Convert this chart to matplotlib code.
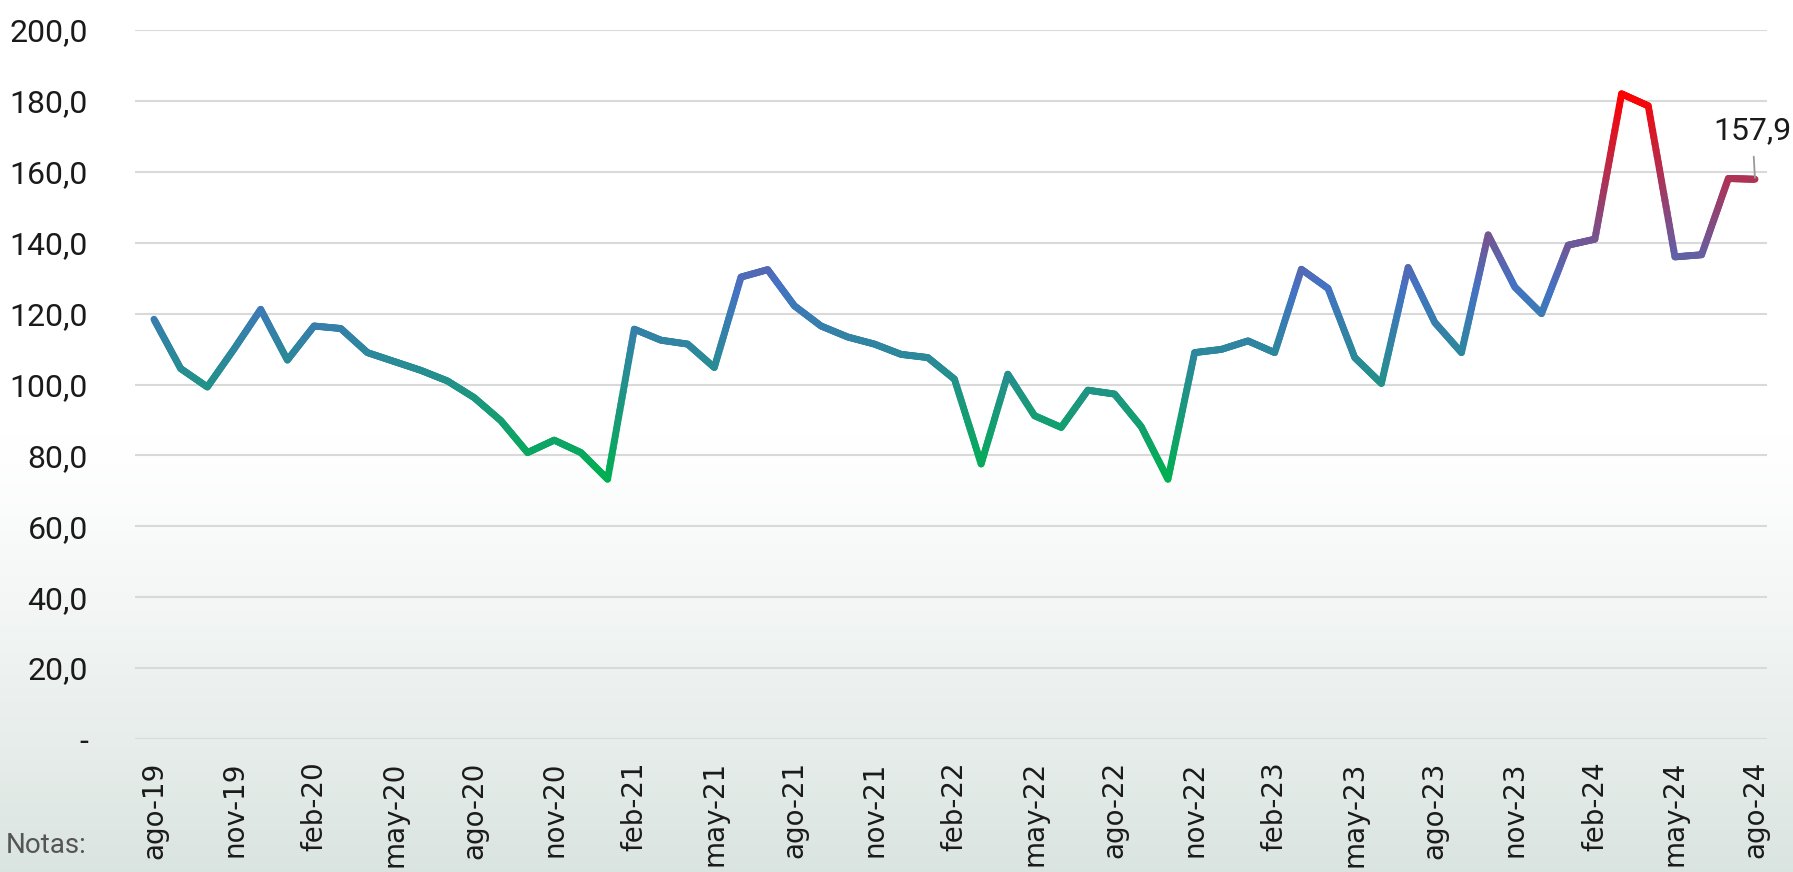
import numpy as np
import matplotlib
matplotlib.use("Agg")
import matplotlib.pyplot as plt
from matplotlib.collections import LineCollection
from matplotlib.colors import LinearSegmentedColormap, Normalize

# monthly values, ago-19 .. ago-24
valores = [118.4, 104.5, 99.3, 110.0, 121.2, 106.9, 116.5, 115.8, 109.0, 106.5,
           104.0, 101.0, 96.3, 89.8, 80.8, 84.3, 80.8, 73.3, 115.6, 112.5,
           111.4, 104.8, 130.3, 132.4, 122.2, 116.5, 113.4, 111.4, 108.5, 107.6,
           101.5, 77.6, 102.9, 91.2, 87.9, 98.4, 97.3, 88.1, 73.3, 109.0,
           109.9, 112.3, 109.0, 132.5, 127.1, 107.6, 100.3, 133.0, 117.5, 109.0,
           142.2, 127.5, 120.0, 139.3, 141.0, 182.0, 178.6, 136.0, 136.6, 158.1,
           157.9]
meses = ["ene", "feb", "mar", "abr", "may", "jun", "jul", "ago", "sep", "oct", "nov", "dic"]
etiquetas = []
for k in range(len(valores)):
    m = 7 + k
    etiquetas.append(meses[m % 12] + "-" + str(19 + m // 12))
yticks = [0, 20, 40, 60, 80, 100, 120, 140, 160, 180, 200]
ylabels = ["-"] + ["%d,0" % v for v in yticks[1:]]

narrow = ["Roboto", "DejaVu Sans"]

fig = plt.figure(figsize=(17.93, 8.72), dpi=100)

# background gradient (white -> light grey-green at the bottom)
bg = fig.add_axes([0, 0, 1, 1], zorder=-5)
t = np.linspace(0, 1, 400)
a = np.clip((t - 0.5) / 0.5, 0, 1) ** 1.2
top = np.array([1.0, 1.0, 1.0])
bot = np.array([0.855, 0.894, 0.878])
grad = (top[None, :] * (1 - a[:, None]) + bot[None, :] * a[:, None])[:, None, :]
bg.imshow(grad, aspect="auto", extent=[0, 1, 0, 1])
bg.axis("off")

ax = fig.add_axes([0.0753, 0.1525, 0.9102, 0.8131])
ax.patch.set_alpha(0)

x = np.arange(len(valores))
y = np.array(valores)

# vertical colour gradient along the line
cmap = LinearSegmentedColormap.from_list("g", ["#00B050", "#4472C4", "#FF0000"])
norm = Normalize(y.min(), y.max())
segs, cols = [], []
for i in range(len(x) - 1):
    xs = np.linspace(x[i], x[i + 1], 25)
    ys = np.linspace(y[i], y[i + 1], 25)
    for j in range(len(xs) - 1):
        segs.append([(xs[j], ys[j]), (xs[j + 1], ys[j + 1])])
        cols.append(cmap(norm((ys[j] + ys[j + 1]) / 2)))
lc = LineCollection(segs, colors=cols, linewidths=5, capstyle="round", joinstyle="round", zorder=3)
ax.add_collection(lc)

ax.set_xlim(-0.71, 60.45)
ax.set_ylim(0, 200)
ax.set_yticks(yticks)
ax.set_yticklabels(ylabels, family=narrow, fontsize=23, color="#1a1a1a")
ax.set_xticks(x[::3])
ax.set_xticklabels(etiquetas[::3], rotation=90, fontsize=20, color="#1a1a1a")
ax.tick_params(axis="y", length=0, pad=34)
ax.tick_params(axis="x", length=0, pad=16)
ax.grid(axis="y", color="#D9D9D9", linewidth=1.5, zorder=0)
ax.set_axisbelow(True)
for s in ax.spines.values():
    s.set_visible(False)

# last value label
ax.annotate("157,9", xy=(x[-1], y[-1]), xytext=(59.9, 171.5),
            ha="center", va="center", fontsize=23, family=narrow, color="#1a1a1a",
            arrowprops=dict(arrowstyle="-", color="#999999", lw=1.3, shrinkA=6, shrinkB=1))

fig.text(0.003, 0.03, "Notas:", fontsize=20, family=narrow, color="#555555",
         ha="left", va="center")

fig.savefig("out.png", dpi=100)
